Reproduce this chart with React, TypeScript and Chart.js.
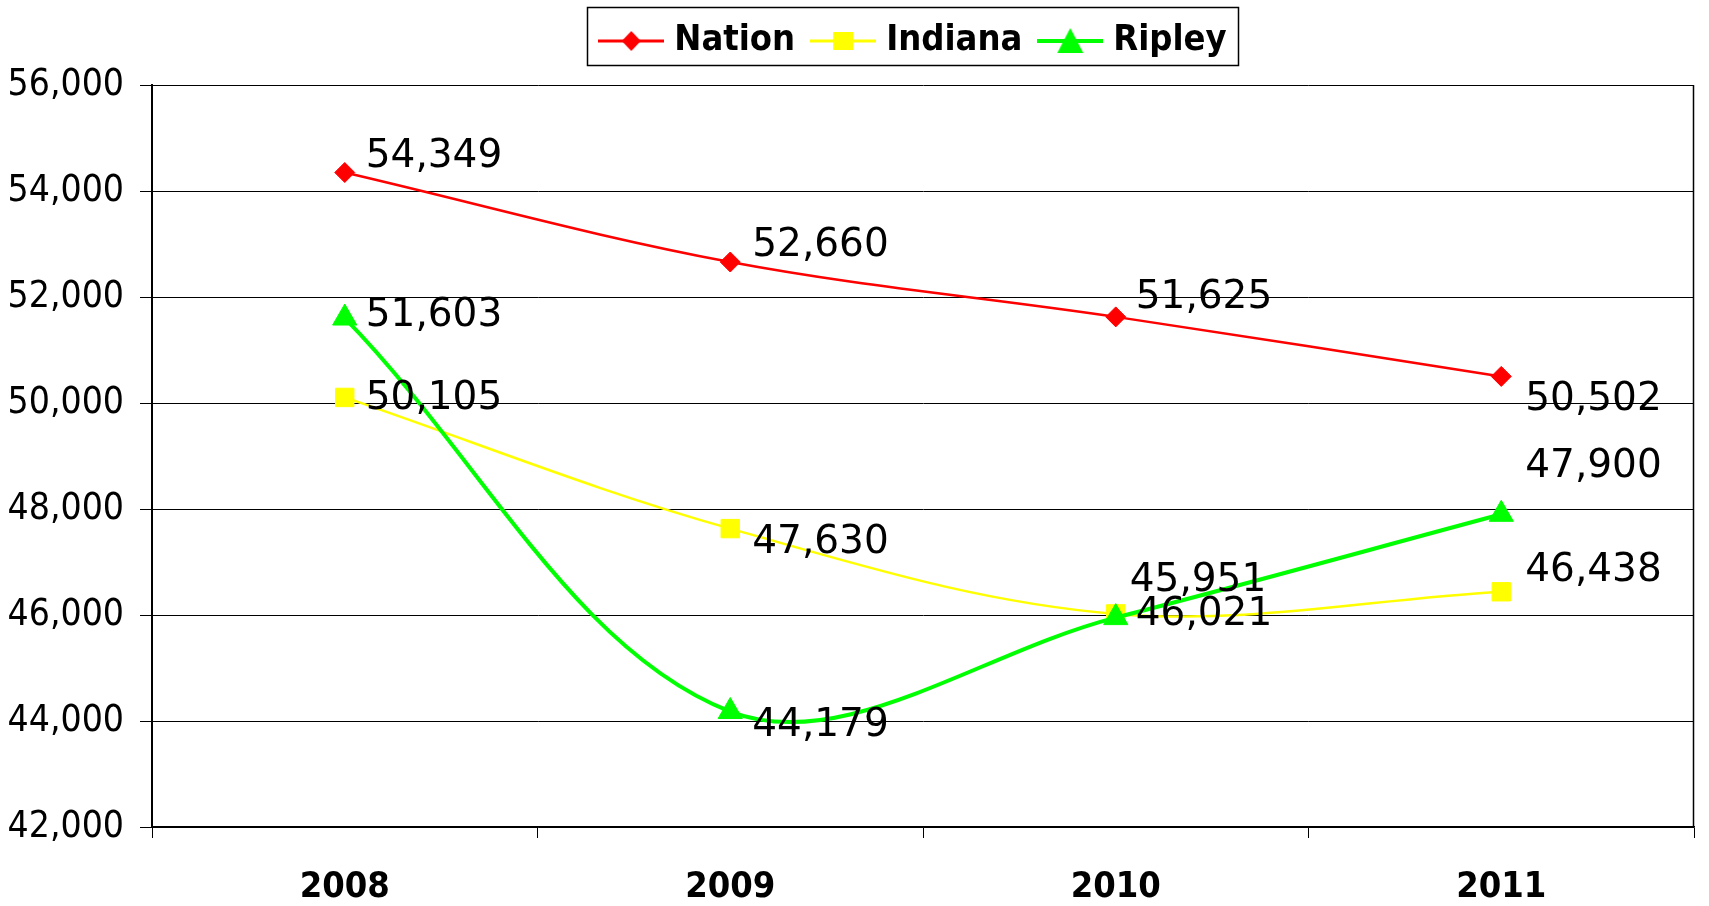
import React, { useEffect, useRef } from 'react';
import { Chart, registerables } from 'chart.js';

Chart.register(...registerables);

// ---------- data ----------
const categories = ['2008', '2009', '2010', '2011'];
const seriesNames = ['Nation', 'Indiana', 'Ripley'];
const nationValues = [54349, 52660, 51625, 50502];
const indianaValues = [50105, 47630, 46021, 46438];
const ripleyValues = [51603, 44179, 45951, 47900];
const yMin = 42000;
const yMax = 56000;
const yStep = 2000;

// ---------- styles ----------
const seriesColors = ['#FF0000', '#FFFF00', '#00FF00'];
const seriesLineWidths = [2.5, 2.5, 4];
const seriesPointStyles = ['rectRot', 'rect', 'triangle'];
const seriesPointRadii = [10, 13, 14];
// label offsets [dx, dy] in pixels relative to each point (style only)
const labelOffsets = [
  [[21, -14], [22, -14], [20, -17], [24, 25]],
  [[21, 3], [22, 16], [20, 3], [24, -19]],
  [[21, 0], [22, 16], [14, -35], [24, -45]],
];

const TAHOMA = "'DejaVu Sans Condensed', 'Liberation Sans', sans-serif";
const VERDANA = "'DejaVu Sans', sans-serif";
const LEGEND_PAD = 23;
const LEGEND_HEIGHT = 85;
const LEGEND_LEFT = 128;

const fmt = (v: number) => v.toLocaleString('en-US');

function makeLegendIcon(color: string, style: string, lw: number): HTMLCanvasElement {
  const c = document.createElement('canvas');
  c.width = 66;
  c.height = 28;
  const ctx = c.getContext('2d')!;
  const cx = 33;
  const cy = 14;
  ctx.strokeStyle = color;
  ctx.lineWidth = Math.max(lw, 3);
  ctx.beginPath();
  ctx.moveTo(0, cy);
  ctx.lineTo(66, cy);
  ctx.stroke();
  ctx.fillStyle = color;
  ctx.beginPath();
  if (style === 'rectRot') {
    ctx.moveTo(cx, cy - 10);
    ctx.lineTo(cx + 9.5, cy);
    ctx.lineTo(cx, cy + 10);
    ctx.lineTo(cx - 9.5, cy);
  } else if (style === 'rect') {
    ctx.rect(cx - 10, cy - 9, 20, 18);
  } else {
    ctx.moveTo(cx, cy - 13);
    ctx.lineTo(cx + 13, cy + 12);
    ctx.lineTo(cx - 13, cy + 12);
  }
  ctx.closePath();
  ctx.fill();
  return c;
}

const dataLabelPlugin = {
  id: 'dataLabels',
  afterDatasetsDraw(chart: any) {
    const ctx = chart.ctx;
    ctx.save();
    ctx.font = `39px ${VERDANA}`;
    ctx.fillStyle = '#000';
    ctx.textAlign = 'left';
    ctx.textBaseline = 'middle';
    chart.data.datasets.forEach((ds: any, i: number) => {
      const meta = chart.getDatasetMeta(i);
      meta.data.forEach((pt: any, j: number) => {
        const off = labelOffsets[i][j];
        ctx.fillText(fmt(ds.data[j]), pt.x + off[0], pt.y + off[1] - 2);
      });
    });
    ctx.restore();
  },
};

const decorPlugin = {
  id: 'decor',
  beforeLayout(chart: any) {
    const lg = chart.legend;
    if (lg && !lg.__patched) {
      const orig = lg.fit.bind(lg);
      lg.fit = function () {
        orig();
        this.height = LEGEND_HEIGHT;
      };
      lg.__patched = true;
    }
  },
  afterUpdate(chart: any) {
    const lg = chart.legend;
    if (lg) {
      lg.left = LEGEND_LEFT;
      lg.width = lg.right - lg.left;
    }
  },
  beforeDatasetsDraw(chart: any) {
    const ctx = chart.ctx;
    const ca = chart.chartArea;
    ctx.save();
    ctx.strokeStyle = '#000';
    ctx.lineWidth = 1.5;
    ctx.beginPath();
    ctx.moveTo(ca.right - 0.5, ca.top);
    ctx.lineTo(ca.right - 0.5, ca.bottom);
    ctx.stroke();
    ctx.restore();
  },
  afterDraw(chart: any) {
    const lg = chart.legend;
    if (!lg || !lg.legendHitBoxes || !lg.legendHitBoxes.length) return;
    const boxes = lg.legendHitBoxes;
    let total = 0;
    let itemH = 0;
    boxes.forEach((h: any) => {
      total += h.width;
      itemH = Math.max(itemH, h.height);
    });
    total += LEGEND_PAD * (boxes.length - 1);
    const l = (lg.left + LEGEND_PAD + lg.right - lg.lineWidths[0]) / 2;
    const t = lg.top + LEGEND_PAD;
    const ctx = chart.ctx;
    ctx.save();
    ctx.strokeStyle = '#000';
    ctx.lineWidth = 1.5;
    ctx.strokeRect(Math.round(l - 19) + 0.5, Math.round(t - 16) + 0.5, Math.round(total + 31), Math.round(itemH + 22));
    ctx.restore();
  },
};

export default function App() {
  const canvasRef = useRef<HTMLCanvasElement | null>(null);

  useEffect(() => {
    document.body.style.margin = '0';
    document.body.style.overflow = 'hidden';
    const canvas = canvasRef.current;
    if (!canvas) return;
    const valueLists = [nationValues, indianaValues, ripleyValues];
    const icons = seriesNames.map((_, i) =>
      makeLegendIcon(seriesColors[i], seriesPointStyles[i], seriesLineWidths[i])
    );
    const datasets = seriesNames.map((name, i) => ({
      label: name,
      data: valueLists[i],
      borderColor: seriesColors[i],
      backgroundColor: seriesColors[i],
      borderWidth: seriesLineWidths[i],
      pointStyle: seriesPointStyles[i] as any,
      pointRadius: seriesPointRadii[i],
      pointBackgroundColor: seriesColors[i],
      pointBorderColor: seriesColors[i],
      pointBorderWidth: 1,
      tension: 0.35,
      fill: false,
      clip: false as any,
      order: 2 - i,
    }));

    const chart = new Chart(canvas, {
      type: 'line',
      data: { labels: categories, datasets },
      options: {
        responsive: false,
        animation: false,
        devicePixelRatio: 1,
        events: [],
        layout: { padding: { left: 0, right: 4, top: 0, bottom: 0 } },
        plugins: {
          tooltip: { enabled: false },
          legend: {
            display: true,
            position: 'top',
            labels: {
              usePointStyle: true,
              pointStyleWidth: 50,
              padding: LEGEND_PAD,
              color: '#000',
              font: { family: TAHOMA, size: 36, weight: 'bold' },
              generateLabels: () =>
                seriesNames.map((name, i) => ({
                  text: name,
                  fillStyle: seriesColors[i],
                  strokeStyle: seriesColors[i],
                  lineWidth: 0,
                  pointStyle: icons[i] as any,
                  hidden: false,
                  datasetIndex: i,
                  fontColor: '#000',
                })),
            },
          },
        },
        scales: {
          x: {
            type: 'category',
            offset: true,
            grid: {
              display: true,
              offset: true,
              drawOnChartArea: false,
              drawTicks: true,
              tickLength: 11,
              color: '#000',
              lineWidth: 1,
            },
            border: { display: true, color: '#000', width: 1.5 },
            ticks: {
              color: '#000',
              padding: 28,
              maxRotation: 0,
              font: { family: TAHOMA, size: 36, weight: 'bold' },
            },
            afterFit: (scale: any) => {
              scale.height = 79;
            },
          },
          y: {
            min: yMin,
            max: yMax,
            grid: {
              display: true,
              drawOnChartArea: true,
              drawTicks: true,
              tickLength: 12,
              color: '#000',
              lineWidth: 1,
            },
            border: { display: true, color: '#000', width: 2 },
            ticks: {
              stepSize: yStep,
              color: '#000',
              padding: 16,
              font: { family: TAHOMA, size: 37 },
              callback: (v: any) => fmt(Number(v)),
            },
            afterFit: (scale: any) => {
              scale.width = 152;
            },
          },
        },
      },
      plugins: [decorPlugin, dataLabelPlugin],
    });
    return () => chart.destroy();
  }, []);

  return (
    <div style={{ width: 1709, height: 906, position: 'relative', background: '#fff' }}>
      <canvas ref={canvasRef} width={1709} height={906} />
    </div>
  );
}
